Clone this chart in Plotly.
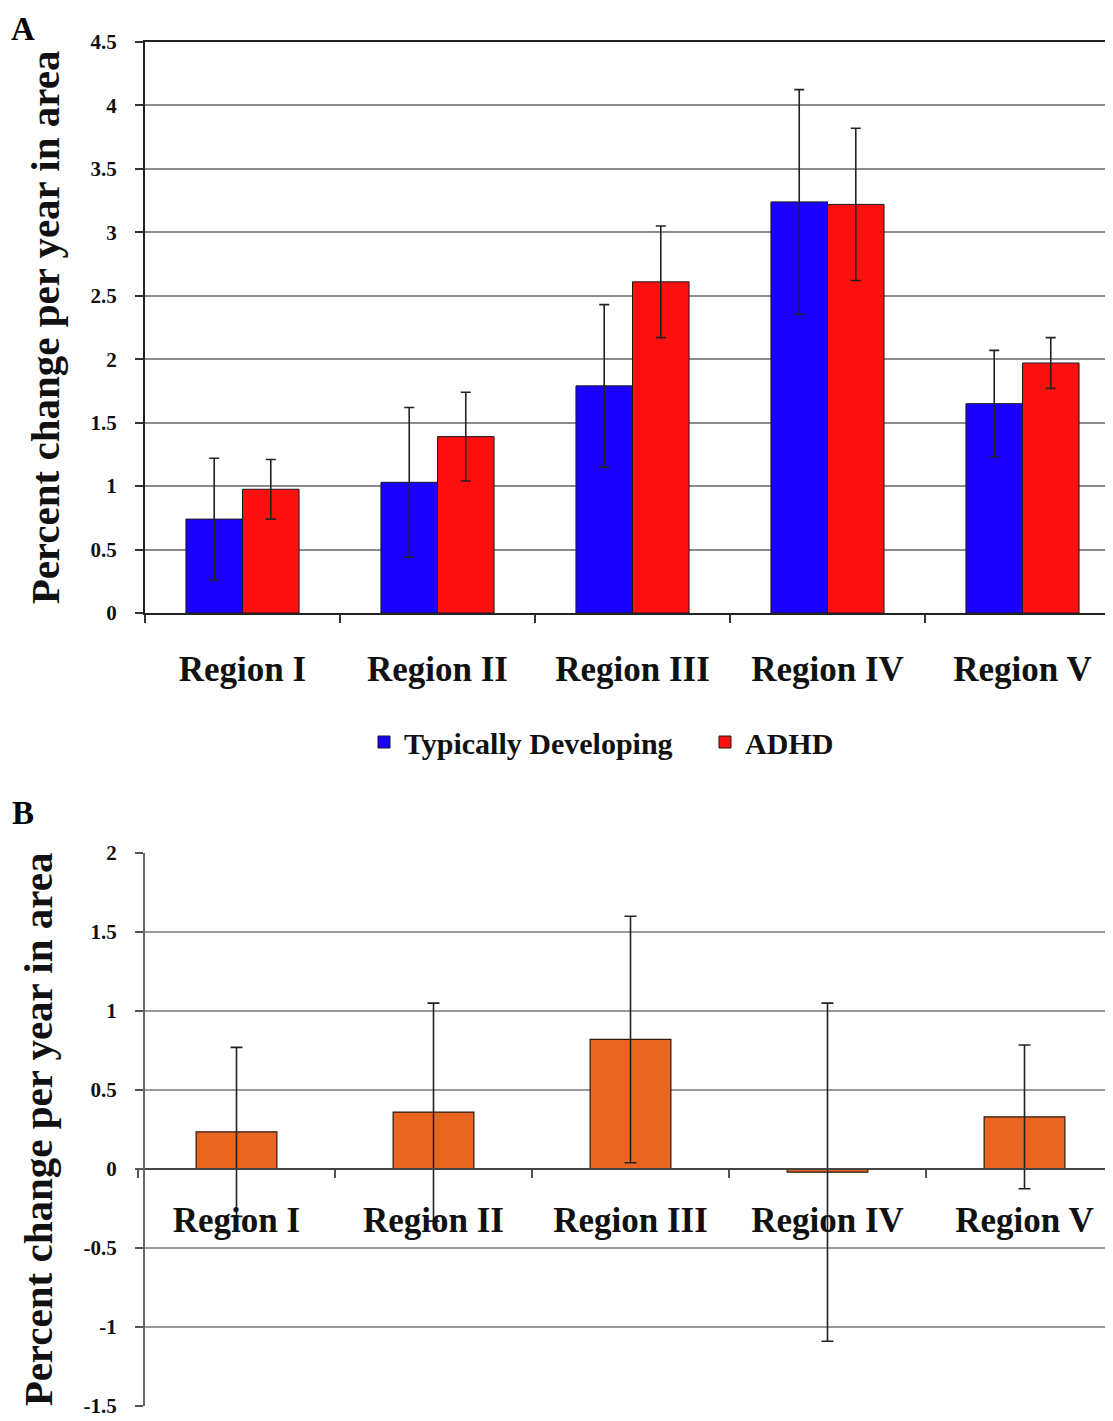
import plotly.graph_objects as go

# ---------------- data ----------------
categories = ["Region I", "Region II", "Region III", "Region IV", "Region V"]
td_values = [0.74, 1.03, 1.79, 3.24, 1.65]
td_errors = [0.48, 0.59, 0.64, 0.885, 0.42]
adhd_values = [0.975, 1.39, 2.61, 3.22, 1.97]
adhd_errors = [0.235, 0.35, 0.44, 0.60, 0.20]
diff_values = [0.235, 0.36, 0.82, -0.02, 0.33]
diff_errors = [0.535, 0.69, 0.78, 1.07, 0.455]

a_tickvals = [0, 0.5, 1, 1.5, 2, 2.5, 3, 3.5, 4, 4.5]
a_ticktext = ["0", "0.5", "1", "1.5", "2", "2.5", "3", "3.5", "4", "4.5"]
b_tickvals = [-1.5, -1, -0.5, 0, 0.5, 1, 1.5, 2]
b_ticktext = ["-1.5", "-1", "-0.5", "0", "0.5", "1", "1.5", "2"]

# ---------------- layout geometry ----------------
OFF = 8                      # page body margin
W, H = 1113 - OFF, 1421 - OFF
FONT = "Liberation Serif"

def px_x(p):
    return (p - OFF) / W

def px_y(p):
    return 1 - (p - OFF) / H

a_dom_y = [px_y(613), px_y(42)]
b_dom_y = [px_y(1406), px_y(853)]
a_dom_x = [px_x(145), 1]
b_dom_x = [px_x(138), 1]
b_zero = b_dom_y[0] + (0 - (-1.5)) / 3.5 * (b_dom_y[1] - b_dom_y[0])

fig = go.Figure()

fig.add_trace(go.Bar(
    x=categories, y=td_values, name="Typically Developing",
    marker=dict(color="#1a00ff", line=dict(color="#1a1a1a", width=1)),
    error_y=dict(type="data", array=td_errors, color="#222222", thickness=1.6, width=5),
    xaxis="x", yaxis="y",
))
fig.add_trace(go.Bar(
    x=categories, y=adhd_values, name="ADHD",
    marker=dict(color="#ff1010", line=dict(color="#1a1a1a", width=1)),
    error_y=dict(type="data", array=adhd_errors, color="#222222", thickness=1.6, width=5),
    xaxis="x", yaxis="y",
))
fig.add_trace(go.Bar(
    x=categories, y=diff_values, name="Difference", showlegend=False,
    width=0.41,
    marker=dict(color="#e8661f", line=dict(color="#2a1a10", width=1.2)),
    error_y=dict(type="data", array=diff_errors, color="#222222", thickness=1.6, width=6),
    xaxis="x2", yaxis="y2",
))

tickfont_y = dict(family=FONT, size=21, color="#111111", weight="bold")
catfont = dict(family=FONT, size=35, color="#111111", weight="bold")
titlefont = dict(family=FONT, size=41, color="#111111", weight="bold")

fig.update_layout(
    width=W, height=H,
    margin=dict(l=0, r=0, t=0, b=0, autoexpand=False),
    paper_bgcolor="white", plot_bgcolor="white",
    barmode="group", bargap=0.42, bargroupgap=0,
    showlegend=True,
    legend=dict(orientation="h", x=px_x(705), xanchor="center", y=px_y(742), yanchor="middle",
                font=dict(family=FONT, size=30, color="#111111", weight="bold"),
                bgcolor="rgba(0,0,0,0)", itemwidth=30, entrywidth=296),
    xaxis=dict(domain=a_dom_x, anchor="y", type="category", categoryarray=categories,
               range=[-0.5, -0.5 + (1113 - 145) / 195], showgrid=False, automargin=False,
               showline=True, linecolor="#222222", linewidth=2, mirror=True,
               ticks="outside", tickson="boundaries", ticklen=8, tickcolor="#333333",
               tickwidth=2, tickfont=catfont, ticklabelstandoff=24),
    yaxis=dict(domain=a_dom_y, anchor="x", range=[0, 4.5], automargin=False,
               tickvals=a_tickvals, ticktext=a_ticktext,
               showgrid=True, gridcolor="#8c8c8c", gridwidth=1.5,
               zeroline=False, showline=True, linecolor="#222222", linewidth=2,
               ticks="outside", ticklen=8, tickcolor="#333333", tickwidth=2,
               tickfont=tickfont_y, ticklabelstandoff=14,
               title=dict(text="Percent change per year in area", font=titlefont, standoff=18)),
    xaxis2=dict(domain=b_dom_x, anchor="free", position=b_zero, type="category",
                categoryarray=categories, automargin=False,
                range=[-0.5, -0.5 + (1113 - 138) / 197], showgrid=False,
                showline=True, linecolor="#444444", linewidth=2,
                ticks="outside", tickson="boundaries", ticklen=8, tickcolor="#555555",
                tickwidth=2, tickfont=catfont, ticklabelstandoff=20),
    xaxis3=dict(domain=b_dom_x, anchor="y2", overlaying="x2", type="category",
                categoryarray=categories, automargin=False,
                range=[-0.5, -0.5 + (1113 - 138) / 197],
                showgrid=False, showline=True, mirror=True, linecolor="#555555", linewidth=2,
                ticks="", showticklabels=False),
    yaxis2=dict(domain=b_dom_y, anchor="x3", range=[-1.5, 2], automargin=False,
                tickvals=b_tickvals, ticktext=b_ticktext,
                showgrid=True, gridcolor="#9a9a9a", gridwidth=1.5,
                zeroline=False, showline=True, linecolor="#666666", linewidth=2,
                ticks="outside", ticklen=8, tickcolor="#555555", tickwidth=2,
                tickfont=tickfont_y, ticklabelstandoff=14,
                title=dict(text="Percent change per year in area", font=titlefont, standoff=18)),
    annotations=[
        dict(text="A", xref="paper", yref="paper", x=px_x(23), y=px_y(29),
             xanchor="center", yanchor="middle",
             showarrow=False, font=dict(family=FONT, size=33, color="#000000", weight="bold")),
        dict(text="B", xref="paper", yref="paper", x=px_x(23), y=px_y(813),
             xanchor="center", yanchor="middle",
             showarrow=False, font=dict(family=FONT, size=33, color="#000000", weight="bold")),
    ],
)

fig.write_html("out.html")
